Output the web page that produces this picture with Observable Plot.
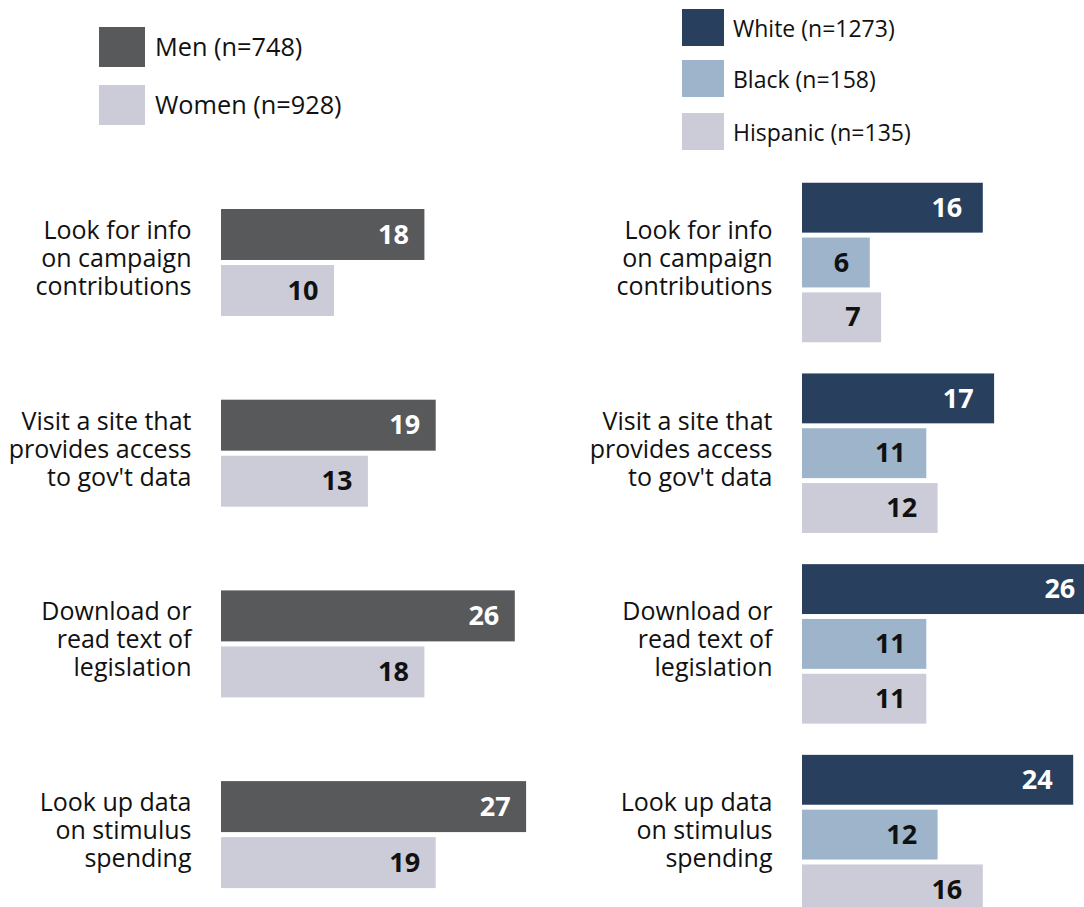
<!DOCTYPE html>
<html>
<head>
<meta charset="utf-8">
<script src="https://cdn.jsdelivr.net/npm/d3@7"></script>
<script src="https://cdn.jsdelivr.net/npm/@observablehq/plot@0.6"></script>
<style>
  html, body { margin: 0; padding: 0; background: #fff; overflow: hidden; }
  #wrap { position: relative; width: 1084px; height: 907px; overflow: hidden; font-family: "Open Sans", sans-serif; color: #111; }
  .plotbox { position: absolute; top: 0; }
  .plotbox svg { max-width: none !important; overflow: hidden; }
  .sw { position: absolute; }
  .lt { position: absolute; white-space: nowrap; transform: translateY(-50%); line-height: 1; }
</style>
</head>
<body>
<div id="wrap"></div>
<script>
// ---- data ----
const categories = ["campaign", "govdata", "legislation", "stimulus"];
const categoryLabels = [
  "Look for info\non campaign\ncontributions",
  "Visit a site that\nprovides access\nto gov't data",
  "Download or\nread text of\nlegislation",
  "Look up data\non stimulus\nspending"
];
const genderSeries = ["Men (n=748)", "Women (n=928)"];
const menValues = [18, 19, 26, 27];
const womenValues = [10, 13, 18, 19];
const raceSeries = ["White (n=1273)", "Black (n=158)", "Hispanic (n=135)"];
const whiteValues = [16, 17, 26, 24];
const blackValues = [6, 11, 11, 12];
const hispanicValues = [7, 12, 11, 16];

const genderColors = ["#58595b", "#cbccd7"];
const raceColors = ["#283f5e", "#9db4cb", "#cbccd7"];
const labelOf = Object.fromEntries(categories.map((c, i) => [c, categoryLabels[i]]));

const genderData = [];
categories.forEach((c, i) => {
  genderData.push({cat: c, series: genderSeries[0], value: menValues[i], dark: true});
  genderData.push({cat: c, series: genderSeries[1], value: womenValues[i], dark: false});
});
const raceData = [];
categories.forEach((c, i) => {
  raceData.push({cat: c, series: raceSeries[0], value: whiteValues[i], dark: true});
  raceData.push({cat: c, series: raceSeries[1], value: blackValues[i], dark: false});
  raceData.push({cat: c, series: raceSeries[2], value: hispanicValues[i], dark: false});
});

const FONT = "Open Sans, sans-serif";

function panel(data, series, colors, opts) {
  return Plot.plot({
    width: opts.width,
    height: opts.height,
    marginLeft: opts.marginLeft,
    marginRight: 0,
    marginTop: opts.marginTop,
    marginBottom: opts.marginBottom,
    style: {fontFamily: FONT, background: "transparent", overflow: "hidden"},
    x: {domain: [0, 30], axis: null},
    y: {domain: series, paddingInner: 0.09, paddingOuter: 0, round: false, axis: null},
    fy: {domain: categories, paddingInner: opts.fyPad, paddingOuter: 0, round: false, axis: null},
    color: {domain: series, range: colors},
    marks: [
      Plot.barX(data, {fy: "cat", y: "series", x: "value", fill: "series", inset: 0}),
      Plot.text(data.filter(d => d.dark), {
        fy: "cat", y: "series", x: "value", text: d => String(d.value),
        textAnchor: "end", dx: -opts.valueInset, fill: "white",
        fontSize: 27, fontWeight: 700
      }),
      Plot.text(data.filter(d => !d.dark), {
        fy: "cat", y: "series", x: "value", text: d => String(d.value),
        textAnchor: "end", dx: -opts.valueInset, fill: "#111",
        fontSize: 27, fontWeight: 700
      }),
      Plot.text(categories, {
        fy: d => d, text: d => labelOf[d], frameAnchor: "left",
        textAnchor: "end", dx: -30, dy: -5, fontSize: 25, lineHeight: 1.12, fill: "#111"
      })
    ]
  });
}

const wrap = document.getElementById("wrap");

const leftBox = document.createElement("div");
leftBox.className = "plotbox";
leftBox.style.left = "0px";
leftBox.appendChild(panel(genderData, genderSeries, genderColors, {
  width: 560, height: 907, marginLeft: 221, marginTop: 209, marginBottom: 18.9,
  fyPad: 0.439, valueInset: 16
}));
wrap.appendChild(leftBox);

const rightBox = document.createElement("div");
rightBox.className = "plotbox";
rightBox.style.left = "580px";
rightBox.appendChild(panel(raceData, raceSeries, raceColors, {
  width: 561, height: 915, marginLeft: 222, marginTop: 182.75, marginBottom: 0.65,
  fyPad: 0.1636, valueInset: 21
}));
wrap.appendChild(rightBox);

// ---- legends ----
function legend(series, colors, sw, textLeft, fontSize) {
  series.forEach((s, i) => {
    const b = document.createElement("div");
    b.className = "sw";
    b.style.left = sw.x + "px";
    b.style.top = sw.tops[i] + "px";
    b.style.width = sw.w + "px";
    b.style.height = sw.h + "px";
    b.style.background = colors[i];
    wrap.appendChild(b);
    const t = document.createElement("div");
    t.className = "lt";
    t.style.left = textLeft + "px";
    t.style.top = (sw.tops[i] + sw.h / 2) + "px";
    t.style.fontSize = fontSize + "px";
    t.textContent = s;
    wrap.appendChild(t);
  });
}
legend(genderSeries, genderColors, {x: 99, tops: [27, 85], w: 46, h: 40}, 155, 25.3);
legend(raceSeries, raceColors, {x: 682, tops: [9, 60, 113], w: 42, h: 37}, 733, 23);
</script>
</body>
</html>
